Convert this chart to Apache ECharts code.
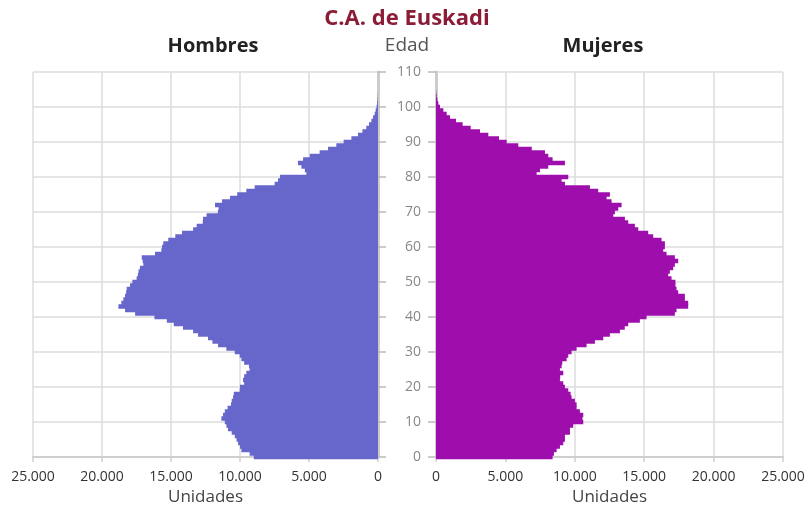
<!DOCTYPE html>
<html>
<head>
<meta charset="utf-8">
<script src="https://cdn.jsdelivr.net/npm/echarts@6/dist/echarts.min.js"></script>
<style>
  html, body { margin: 0; padding: 0; background: #fff; }
  #chart { width: 807px; height: 509px; }
</style>
</head>
<body>
<div id="chart"></div>
<script>
// edades 0..110 (eje vertical)
var edades = [];
for (var i = 0; i <= 110; i++) edades.push(String(i));

// Hombres, edad 0..104
var hombres = [
  9000, 9300, 9900, 10000, 10140, 10250, 10380, 10600, 10870, 10990,
  11100, 11350, 11230, 11100, 10900, 10650, 10600, 10500, 10450, 10020,
  10000, 9700, 9780, 9700, 9540, 9300, 9350, 9700, 9900, 10020,
  10380, 10990, 11590, 12000, 12320, 13040, 13400, 14130, 14800, 15300,
  16200, 17600, 18330, 18810, 18600, 18450, 18330, 18250, 18210, 17970,
  17800, 17490, 17400, 17350, 17250, 17000, 17050, 17120, 16160, 15700,
  15650, 15560, 15200, 14690, 14200, 13400, 13140, 12700, 12680, 12420,
  11600, 11550, 11810, 11300, 10720, 10200, 9540, 8935, 7490, 7245,
  7100, 5190, 5300, 5550, 5800, 5430, 4950, 4230, 3620, 3020,
  2490, 1930, 1450, 1130, 850, 650, 480, 360, 240, 170,
  100, 60, 30, 15, 8
];

// Mujeres, edad 0..104
var mujeres = [
  8400, 8500, 8690, 8930, 9170, 9290, 9290, 9650, 9650, 9890,
  10610, 10550, 10610, 10370, 10130, 10130, 10010, 9770, 9700, 9530,
  9290, 9170, 8930, 8950, 9170, 8930, 9050, 9100, 9410, 9530,
  9770, 10130, 10850, 11450, 12050, 12530, 13250, 13600, 13850, 14690,
  15170, 17210, 17330, 18170, 18170, 17930, 17930, 17450, 17330, 17250,
  17250, 16970, 16730, 16850, 17090, 17210, 17450, 17210, 16610, 16370,
  16490, 16490, 16250, 15650, 15290, 14570, 14330, 13850, 13610, 12770,
  12890, 13130, 13370, 12650, 12290, 12530, 11690, 11090, 9290, 9050,
  9530, 7250, 7490, 8090, 9290, 8400, 8090, 7850, 6900, 5930,
  5090, 4540, 3770, 3170, 2500, 1920, 1440, 1010, 770, 530,
  290, 170, 100, 50, 20
];

var FONT = '"Open Sans", "DejaVu Sans", sans-serif';

function miles(v) {
  return String(v).replace(/\B(?=(\d{3})+(?!\d))/g, '.');
}

var chart = echarts.init(document.getElementById('chart'), null, { renderer: 'canvas' });

function xAxisCfg(idx, inverse) {
  return {
    type: 'value',
    gridIndex: idx,
    inverse: inverse,
    min: 0,
    max: 25000,
    interval: 5000,
    name: 'Unidades',
    nameLocation: 'middle',
    nameGap: 31,
    nameTextStyle: { color: '#444', fontSize: 17, fontFamily: FONT },
    axisLine: { show: true, lineStyle: { color: '#cfcfcf', width: 2 } },
    axisTick: { show: true, length: 5, lineStyle: { color: '#cfcfcf', width: 1.5 } },
    axisLabel: { color: '#333', fontSize: 14, fontFamily: FONT, margin: 13, formatter: miles },
    splitLine: { show: true, lineStyle: { color: '#dcdcdc', width: 1.5 } }
  };
}

function yAxisCfg(idx, pos, showLabel) {
  return {
    type: 'category',
    gridIndex: idx,
    position: pos,
    data: edades,
    boundaryGap: false,
    axisLine: { show: true, lineStyle: { color: '#cccccc', width: 3 } },
    axisTick: { show: true, interval: 9, length: 8, lineStyle: { color: '#bbbbbb', width: 1.5 } },
    axisLabel: {
      show: showLabel, interval: 9, color: '#888', fontSize: 14,
      fontFamily: FONT, margin: 15
    },
    splitLine: { show: true, interval: 9, lineStyle: { color: '#dcdcdc', width: 1.5 } }
  };
}

chart.setOption({
  backgroundColor: '#fff',
  animation: false,
  graphic: [
    { type: 'text', x: 407, y: 19,
      style: { text: 'C.A. de Euskadi', fill: '#8c1b36', font: 'bold 22px ' + FONT, align: 'center', verticalAlign: 'middle' } },
    { type: 'text', x: 213, y: 46,
      style: { text: 'Hombres', fill: '#222', font: 'bold 20px ' + FONT, align: 'center', verticalAlign: 'middle' } },
    { type: 'text', x: 407, y: 46,
      style: { text: 'Edad', fill: '#555', font: '19px ' + FONT, align: 'center', verticalAlign: 'middle' } },
    { type: 'text', x: 603, y: 46,
      style: { text: 'Mujeres', fill: '#222', font: 'bold 20px ' + FONT, align: 'center', verticalAlign: 'middle' } }
  ],
  grid: [
    { left: 33, right: 429, top: 72, bottom: 52, outerBoundsMode: 'none' },
    { left: 436, right: 24, top: 72, bottom: 52, outerBoundsMode: 'none' }
  ],
  xAxis: [xAxisCfg(0, true), xAxisCfg(1, false)],
  yAxis: [yAxisCfg(0, 'right', false), yAxisCfg(1, 'left', true)],
  series: [
    {
      name: 'Hombres', type: 'bar', xAxisIndex: 0, yAxisIndex: 0,
      data: hombres, barWidth: '130%',
      itemStyle: { color: '#6767cb' }
    },
    {
      name: 'Mujeres', type: 'bar', xAxisIndex: 1, yAxisIndex: 1,
      data: mujeres, barWidth: '130%',
      itemStyle: { color: '#9e0eac' }
    }
  ]
});
</script>
</body>
</html>
